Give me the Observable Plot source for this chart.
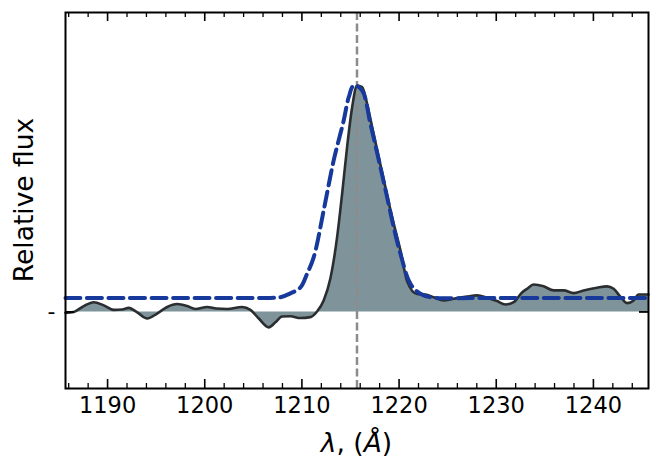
<!DOCTYPE html>
<html><head><meta charset="utf-8">
<script src="https://cdn.jsdelivr.net/npm/d3@7"></script>
<script src="https://cdn.jsdelivr.net/npm/@observablehq/plot@0.6"></script>
<style>body{margin:0;background:#fff} svg{display:block}</style>
</head><body><div id="chart"></div>
<script>
// Observed spectrum (wavelength in Å, relative flux)
const wavelength = [1185.67, 1186.52, 1187.55, 1188.58, 1189.61, 1190.64, 1191.50, 1192.18, 1193.05, 1194.08,
  1195.10, 1196.13, 1197.16, 1198.19, 1199.04, 1200.25, 1201.20, 1202.31, 1203.85, 1204.70,
  1205.56, 1206.59, 1207.27, 1207.96, 1208.81, 1209.84, 1210.87, 1211.56, 1212.24, 1212.93,
  1213.62, 1214.14, 1214.65, 1215.17, 1215.68, 1216.20, 1216.71, 1217.23, 1217.91, 1218.59,
  1219.28, 1220.14, 1220.83, 1221.85, 1222.71, 1223.56, 1224.59, 1225.62, 1226.99, 1228.03,
  1229.05, 1230.08, 1230.94, 1231.79, 1232.66, 1233.17, 1233.85, 1234.88, 1235.91, 1236.94,
  1237.96, 1238.99, 1240.37, 1241.40, 1242.08, 1242.77, 1243.46, 1244.14, 1244.65, 1245.67];
const flux = [-0.004, 0.000, 0.026, 0.043, 0.029, 0.009, 0.011, 0.018, -0.002, -0.029,
  -0.007, 0.022, 0.035, 0.026, 0.013, 0.022, 0.015, 0.013, 0.022, 0.009,
  -0.029, -0.068, -0.046, -0.020, -0.019, -0.027, -0.023, 0.002, 0.051, 0.148,
  0.329, 0.522, 0.728, 0.904, 1.000, 0.993, 0.919, 0.816, 0.683, 0.551,
  0.419, 0.272, 0.135, 0.079, 0.077, 0.065, 0.051, 0.058, 0.068, 0.073,
  0.063, 0.048, 0.033, 0.043, 0.086, 0.102, 0.121, 0.113, 0.095, 0.095,
  0.083, 0.095, 0.107, 0.113, 0.102, 0.068, 0.039, 0.051, 0.077, 0.077];

// Model profile (blue dashed)
const modelWavelength = [1185.67, 1200.00, 1206.76, 1207.79, 1208.82, 1209.85, 1210.54, 1211.22, 1212.24, 1213.27, 1214.30,
  1214.82, 1215.35, 1216.19, 1217.05, 1218.08, 1218.77, 1219.45, 1220.14, 1221.17, 1222.19, 1223.22, 1230.00, 1245.67];
const modelFlux = [0.062, 0.062, 0.062, 0.065, 0.082, 0.108, 0.169, 0.242, 0.448, 0.669, 0.845,
  0.948, 1.000, 0.978, 0.831, 0.639, 0.507, 0.374, 0.257, 0.124, 0.080, 0.065, 0.062, 0.062];

const lyaCenter = [1215.67];
const xDomain = [1185.67, 1245.67];
const yDomain = [-0.338, 1.322];
const majorTicks = [1190, 1200, 1210, 1220, 1230, 1240];
const minorTicks = [1186, 1188, 1192, 1194, 1196, 1198, 1202, 1204, 1206, 1208, 1212, 1214, 1216, 1218,
  1222, 1224, 1226, 1228, 1232, 1234, 1236, 1238, 1242, 1244];
const yTicks = [0];
const yTickLabels = ["-"];
const yLabel = "Relative flux";

const spectrum = wavelength.map((w, i) => ({w, f: flux[i]}));
const model = modelWavelength.map((w, i) => ({w, f: modelFlux[i]}));

const W = 650, H = 459, mL = 65, mR = 2, mT = 12, mB = 71;
const fw = W - mL - mR, fh = H - mT - mB;
const font = "DejaVu Sans";

const chart = Plot.plot({
  width: W, height: H,
  marginLeft: mL, marginRight: mR, marginTop: mT, marginBottom: mB,
  style: {fontFamily: font, background: "white", color: "black"},
  x: {domain: xDomain},
  y: {domain: yDomain},
  marks: [
    Plot.areaY(spectrum, {x: "w", y1: 0, y2: "f", fill: "#7f949a", curve: "monotone-x"}),
    Plot.ruleX(lyaCenter, {stroke: "#8c8c8c", strokeWidth: 2.5, strokeDasharray: "8,3.5"}),
    Plot.lineY(spectrum, {x: "w", y: "f", stroke: "#2b2e30", strokeWidth: 2.6, curve: "monotone-x"}),
    Plot.lineY(model, {x: "w", y: "f", stroke: "#17399c", strokeWidth: 4, strokeDasharray: "15,6.5", curve: "catmull-rom"}),
    Plot.frame({stroke: "black", strokeWidth: 2}),
    // inward ticks
    Plot.ruleX(majorTicks, {insetTop: fh - 9, stroke: "black", strokeWidth: 1.6}),
    Plot.ruleX(majorTicks, {insetBottom: fh - 9, stroke: "black", strokeWidth: 1.6}),
    Plot.ruleX(minorTicks, {insetTop: fh - 5, stroke: "black", strokeWidth: 1.3}),
    Plot.ruleX(minorTicks, {insetBottom: fh - 5, stroke: "black", strokeWidth: 1.3}),
    Plot.ruleY(yTicks, {insetRight: fw - 9, stroke: "black", strokeWidth: 1.8}),
    Plot.ruleY(yTicks, {insetLeft: fw - 9, stroke: "black", strokeWidth: 1.8}),
    Plot.axisX(majorTicks, {tickSize: 0, tickPadding: 9, fontSize: 22.5, tickFormat: d => String(d), label: null}),
    Plot.axisY(yTicks, {tickSize: 0, tickPadding: 10, fontSize: 22, tickFormat: (d, i) => yTickLabels[i], label: null})
  ]
});

const svg = d3.select(chart);
svg.append("text")
  .attr("transform", `translate(33,${mT + fh / 2}) rotate(-90)`)
  .attr("text-anchor", "middle")
  .attr("font-family", font).attr("font-size", 26.5).attr("fill", "black")
  .text(yLabel);
const xl = svg.append("text")
  .attr("x", mL + fw / 2).attr("y", 452)
  .attr("text-anchor", "middle")
  .attr("font-family", font).attr("font-size", 26.5).attr("fill", "black");
xl.append("tspan").attr("font-style", "italic").text("λ");
xl.append("tspan").text(", (");
xl.append("tspan").attr("font-style", "italic").text("Å");
xl.append("tspan").text(")");

document.getElementById("chart").appendChild(chart);
</script>
</body></html>
